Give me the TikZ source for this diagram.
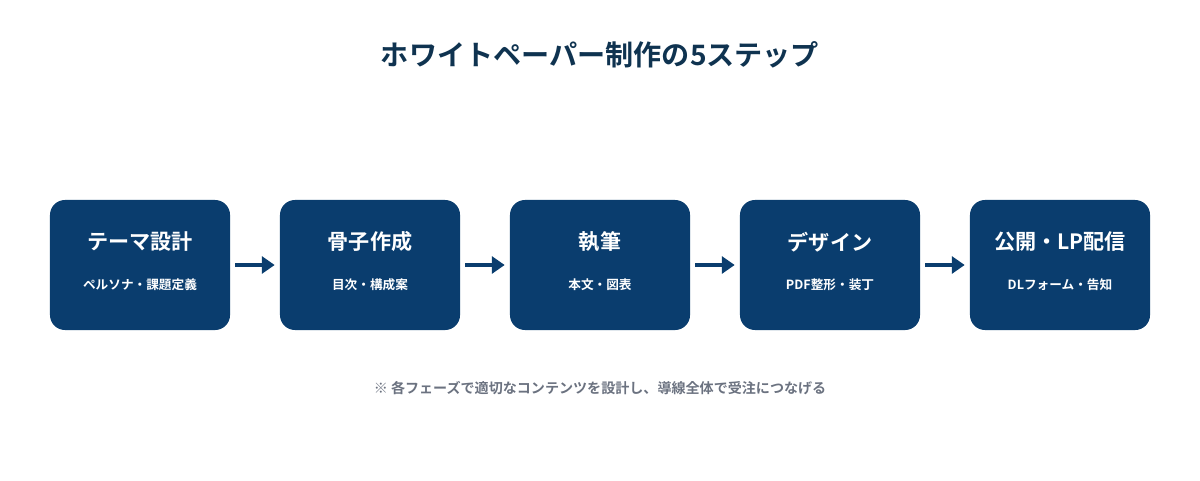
\documentclass[tikz,border=0pt]{standalone}
\usepackage{fontspec}
\setmainfont{Noto Sans CJK JP}[BoldFont={Noto Sans CJK JP Bold}]
\usetikzlibrary{positioning,arrows.meta}
\definecolor{boxblue}{HTML}{0A3D6E}
\definecolor{titleblue}{HTML}{0F3350}
\definecolor{notegray}{HTML}{6B7280}
\tikzset{
  stepbox/.style={fill=boxblue,rounded corners=15*0.025cm,minimum width=4.5cm,minimum height=3.25cm,inner sep=0pt},
  steptitle/.style={text=white,font=\fontsize{15}{18}\selectfont\bfseries},
  stepsub/.style={text=white,font=\fontsize{9}{11}\selectfont\bfseries},
  flow/.style={boxblue,line width=3.2*0.025cm,-{Triangle[length=0.32cm,width=0.42cm]}}
}
\begin{document}
\begin{tikzpicture}[x=0.025cm,y=-0.025cm]
\useasboundingbox (0,0) rectangle (1200,480);
% title
\node[text=titleblue,font=\fontsize{20}{24}\selectfont\bfseries] (title) at (600,55) {ホワイトペーパー制作の5ステップ};
% steps
\node[stepbox] (s1) at (140,265) {};
\node[stepbox] (s2) at (370,265) {};
\node[stepbox] (s3) at (600,265) {};
\node[stepbox] (s4) at (830,265) {};
\node[stepbox] (s5) at (1060,265) {};
\node[steptitle] (t1) at (140,242) {テーマ設計};
\node[steptitle] (t2) at (370,242) {骨子作成};
\node[steptitle] (t3) at (600,242) {執筆};
\node[steptitle] (t4) at (830,242) {デザイン};
\node[steptitle] (t5) at (1060,242) {公開・LP配信};
\node[stepsub] (u1) at (140,285) {ペルソナ・課題定義};
\node[stepsub] (u2) at (370,285) {目次・構成案};
\node[stepsub] (u3) at (600,285) {本文・図表};
\node[stepsub] (u4) at (830,285) {PDF整形・装丁};
\node[stepsub] (u5) at (1060,285) {DLフォーム・告知};
% arrows
\foreach \a/\b in {s1/s2,s2/s3,s3/s4,s4/s5}
  \draw[flow] ([xshift=5*0.025cm]\a.east) -- ([xshift=-5*0.025cm]\b.west);
% note
\node[text=notegray,font=\fontsize{10}{12}\selectfont\bfseries] (note) at (600,388) {※ 各フェーズで適切なコンテンツを設計し、導線全体で受注につなげる};
\end{tikzpicture}
\end{document}
